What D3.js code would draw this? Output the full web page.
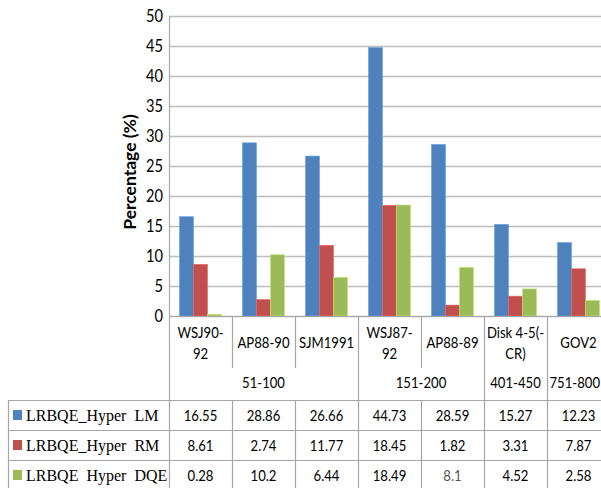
<!DOCTYPE html>
<html>
<head>
<meta charset="utf-8">
<script src="https://cdn.jsdelivr.net/npm/d3@7/dist/d3.min.js"></script>
<style>
  html, body { margin: 0; padding: 0; background: #fff; }
  svg { display: block; }
  text { white-space: pre; }
</style>
</head>
<body>
<svg id="chart" width="601" height="488"></svg>
<script>
// Collections (category labels, wrapped over lines)
const categories = ["WSJ90-92", "AP88-90", "SJM1991", "WSJ87-92", "AP88-89", "Disk 4-5(-CR)", "GOV2"];
const categoryLines = [["WSJ90-", "92"], ["AP88-90"], ["SJM1991"], ["WSJ87-", "92"], ["AP88-89"], ["Disk 4-5(-", "CR)"], ["GOV2"]];

// Topic ranges spanning consecutive collections
const topicLabels = ["51-100", "151-200", "401-450", "751-800"];
const topicStart = [0, 3, 5, 6];
const topicEnd = [2, 4, 5, 6];

// Series
const seriesNames = ["LRBQE_Hyper  LM", "LRBQE_Hyper  RM", "LRBQE  Hyper  DQE"];
const seriesColors = ["#4F81BD", "#C0504D", "#9BBB59"];
const lmValues = [16.55, 28.86, 26.66, 44.73, 28.59, 15.27, 12.23];
const rmValues = [8.61, 2.74, 11.77, 18.45, 1.82, 3.31, 7.87];
const dqeValues = [0.28, 10.2, 6.44, 18.49, 8.1, 4.52, 2.58];
const dqeLabels = ["0.28", "10.2", "6.44", "18.49", "8.1", "4.52", "2.58"];

// Y axis
const yTicks = [0, 5, 10, 15, 20, 25, 30, 35, 40, 45, 50];
const yTitle = "Percentage (%)";

const series = [lmValues, rmValues, dqeValues];
const valueText = [lmValues.map(v => v.toFixed(2)), rmValues.map(v => v.toFixed(2)), dqeLabels];

const svg = d3.select("#chart");
const sans = "Lato, 'Liberation Sans', Arial, sans-serif";
const serif = "'Liberation Serif', 'Times New Roman', serif";
const gridColor = "#BDBDBD";
const lineColor = "#A6A6A6";
const squeeze = 0.82;   // narrow the sans face horizontally

const plotLeft = 169, plotRight = 610, plotTop = 16, plotBottom = 316;
const tableTop = 400, rowH = 30, tableLeft = 8;
const catRowBottom = 368;

const x = d3.scaleBand().domain(categories).range([plotLeft, plotRight]).padding(0);
const xs = d3.scaleBand().domain(d3.range(series.length)).range([0, x.bandwidth()])
  .paddingInner(0).paddingOuter(0.75);
const y = d3.scaleLinear().domain([0, 50]).range([plotBottom, plotTop]);

// Centered, horizontally narrowed text
function narrowText(parent, cx, by, lines, size, lineGap, fill) {
  const t = parent.append("text")
    .attr("transform", `translate(${cx},${by}) scale(${squeeze},1)`)
    .attr("text-anchor", "middle")
    .attr("font-family", sans).attr("font-size", size).attr("fill", fill || "#000");
  lines.forEach((l, k) => t.append("tspan").attr("x", 0).attr("y", k * lineGap).text(l));
  return t;
}

// Gridlines
svg.append("g")
  .selectAll("line").data(yTicks).join("line")
  .attr("x1", plotLeft).attr("x2", 601)
  .attr("y1", d => Math.round(y(d)) + 0.5).attr("y2", d => Math.round(y(d)) + 0.5)
  .attr("stroke", gridColor).attr("stroke-width", 1.3);

// Y axis labels
const yAxis = d3.axisLeft(y).tickValues(yTicks).tickSize(0).tickPadding(6);
const gy = svg.append("g").attr("transform", `translate(${plotLeft},0)`).call(yAxis);
gy.select(".domain").remove();
gy.selectAll("text")
  .attr("font-family", sans).attr("font-size", 17).attr("fill", "#000")
  .attr("x", -6 / 0.86).attr("transform", "scale(0.86,1)");

// Y axis title
svg.append("text")
  .attr("transform", `translate(136,172) rotate(-90)`)
  .attr("text-anchor", "middle")
  .attr("font-family", sans).attr("font-size", 17.5).attr("font-weight", "bold")
  .text(yTitle);

// Bars
const barG = svg.append("g");
series.forEach((vals, si) => {
  barG.selectAll(null).data(vals).join("rect")
    .attr("x", (d, i) => x(categories[i]) + xs(si))
    .attr("width", xs.bandwidth())
    .attr("y", d => y(d))
    .attr("height", d => y(0) - y(d))
    .attr("fill", seriesColors[si])
    .attr("stroke", d3.color(seriesColors[si]).brighter(0.6))
    .attr("stroke-width", 0.6);
});

// Axis / table lines
const lines = svg.append("g").attr("stroke", lineColor).attr("stroke-width", 1.2);
// y axis line, full height to the bottom of the table
lines.append("line").attr("x1", plotLeft + 0.5).attr("x2", plotLeft + 0.5).attr("y1", plotTop).attr("y2", 488);
// x axis baseline
lines.append("line").attr("x1", plotLeft).attr("x2", 601).attr("y1", plotBottom + 0.5).attr("y2", plotBottom + 0.5);

// Dividers between collections: short ones inside a topic, long ones between topics
categories.forEach((c, i) => {
  if (i === 0) return;
  const xx = Math.round(x(c)) + 0.5;
  const boundary = topicStart.includes(i);
  lines.append("line").attr("x1", xx).attr("x2", xx)
    .attr("y1", plotBottom).attr("y2", boundary ? 488 : catRowBottom);
  if (!boundary) {
    lines.append("line").attr("x1", xx).attr("x2", xx).attr("y1", tableTop).attr("y2", 488);
  }
});

// Table horizontal lines and left border
[0, 1, 2].forEach(r => {
  lines.append("line").attr("x1", tableLeft).attr("x2", 601)
    .attr("y1", tableTop + r * rowH + 0.5).attr("y2", tableTop + r * rowH + 0.5);
});
lines.append("line").attr("x1", tableLeft + 0.5).attr("x2", tableLeft + 0.5).attr("y1", tableTop).attr("y2", 488);

// Category labels
categories.forEach((c, i) => {
  const ls = categoryLines[i];
  const cx = x(c) + x.bandwidth() / 2;
  narrowText(svg, cx, ls.length === 1 ? 348 : 338, ls, 16, 21);
});

// Topic labels (kept inside the right edge of the page)
topicLabels.forEach((lab, k) => {
  const x0 = x(categories[topicStart[k]]);
  const x1 = x(categories[topicEnd[k]]) + x.bandwidth();
  const t = narrowText(svg, (x0 + x1) / 2, 388, [lab], 16, 0);
  const w = t.node().getComputedTextLength() * squeeze;
  const cx = Math.min((x0 + x1) / 2, 600 - w / 2);
  t.attr("transform", `translate(${cx},388) scale(${squeeze},1)`);
});

// Data table rows: legend key, name, values
series.forEach((vals, si) => {
  const cy = tableTop + si * rowH + rowH / 2;
  svg.append("rect").attr("x", 13).attr("y", cy - 5).attr("width", 9).attr("height", 10)
    .attr("fill", seriesColors[si]);
  svg.append("text").attr("x", 26).attr("y", cy + 6)
    .attr("font-family", serif).attr("font-size", 16).attr("fill", "#000")
    .text(seriesNames[si]);
  vals.forEach((v, i) => {
    narrowText(svg, x(categories[i]) + x.bandwidth() / 2, cy + 6, [valueText[si][i]], 16, 0,
      (si === 2 && i === 4) ? "#555" : "#000");
  });
});
</script>
</body>
</html>
